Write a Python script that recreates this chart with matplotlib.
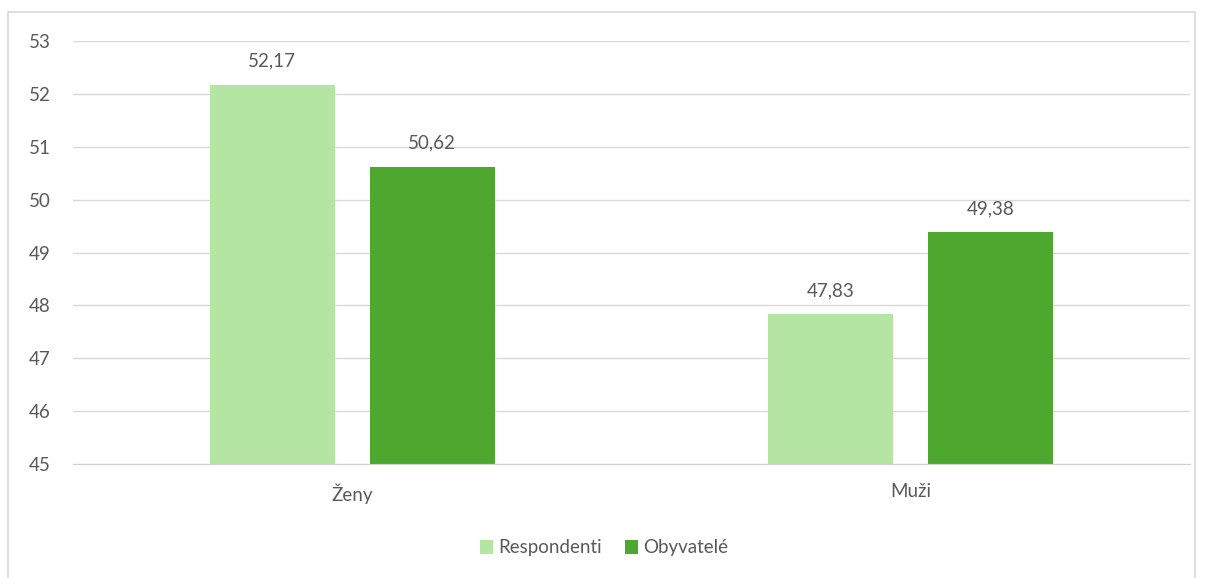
import matplotlib
matplotlib.use("Agg")
import matplotlib.pyplot as plt
from matplotlib.patches import Rectangle
import numpy as np

categories = ["Ženy", "Muži"]
series_names = ["Respondenti", "Obyvatelé"]
respondenti = [52.17, 47.83]
obyvatele = [50.62, 49.38]
yticks = [45, 46, 47, 48, 49, 50, 51, 52, 53]

colors = ["#B5E5A2", "#4EA72E"]
text_color = "#595959"
plt.rcParams['font.family'] = ['Lato', 'DejaVu Sans']

fig = plt.figure(figsize=(12.08, 5.78), dpi=100)
ax = fig.add_axes([73/1208, 1 - 464/578, (1190-73)/1208, (464-41)/578])

# chart border
fig.patches.append(Rectangle((8/1208, -0.01), (1195-8)/1208, 1.01 - 12/578,
                             transform=fig.transFigure, fill=False,
                             edgecolor="#D9D9D9", linewidth=1.2))

x = np.arange(len(categories))
width = 0.224
offset = 0.143
for vals, off, c, name in [(respondenti, -offset, colors[0], series_names[0]),
                           (obyvatele, offset, colors[1], series_names[1])]:
    bars = ax.bar(x + off, [v - 45 for v in vals], width, bottom=45, color=c, label=name, zorder=2)
    for b, v in zip(bars, vals):
        ax.text(b.get_x() + b.get_width() / 2, v + 0.45, f"{v:.2f}".replace(".", ","),
                ha="center", va="center", fontsize=13.5, color=text_color)

ax.set_xlim(-0.5, 1.5)
ax.set_ylim(45, 53)
ax.set_yticks(yticks)
ax.set_xticks(x)
ax.set_xticklabels(categories)
ax.tick_params(axis="both", length=0, labelsize=13.5, colors=text_color)
ax.tick_params(axis="y", pad=16)
ax.tick_params(axis="x", pad=14)
ax.grid(axis="y", color="#D9D9D9", linewidth=1, zorder=0)
for s in ax.spines.values():
    s.set_visible(False)
ax.spines["bottom"].set_visible(True)
ax.spines["bottom"].set_color("#D0D0D0")
ax.spines["bottom"].set_zorder(3)

fig.legend(loc="center", bbox_to_anchor=(0.5, 1 - 548/578), ncol=2, frameon=False,
           fontsize=13.5, labelcolor=text_color, handlelength=0.7, handleheight=0.7,
           handletextpad=0.3, columnspacing=1.2)

fig.savefig("out.png", dpi=100)
